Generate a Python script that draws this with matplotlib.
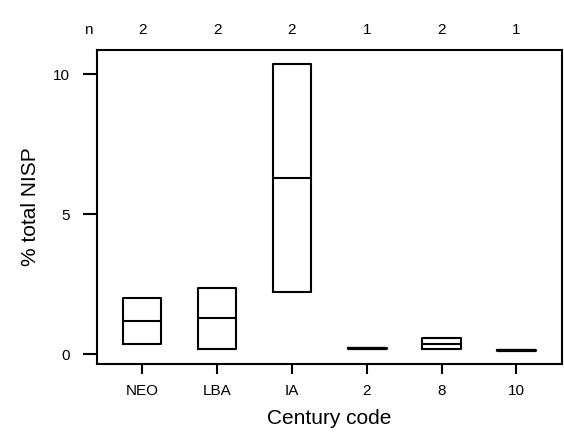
import matplotlib
matplotlib.use("Agg")
import matplotlib.pyplot as plt
import matplotlib.transforms as mtransforms
import numpy as np

plt.rcParams['font.family'] = ['Liberation Sans', 'DejaVu Sans']

categories = ["NEO", "LBA", "IA", "2", "8", "10"]
# observations (% total NISP) per century code
obs_neo = [0.36, 2.0]
obs_lba = [0.2, 2.36]
obs_ia = [2.21, 10.36]
obs_2 = [0.21]
obs_8 = [0.2, 0.57]
obs_10 = [0.14]
groups = [obs_neo, obs_lba, obs_ia, obs_2, obs_8, obs_10]
counts = [len(g) for g in groups]
yticks = [0, 5, 10]

W, H = 564, 432
fig = plt.figure(figsize=(W / 100, H / 100), dpi=100)
ax = fig.add_axes([96.7 / W, (H - 364) / H, (562 - 96.7) / W, (364 - 50) / H])

stats = []
for g in groups:
    lo, hi, med = min(g), max(g), float(np.median(g))
    stats.append(dict(med=med, q1=lo, q3=hi, whislo=lo, whishi=hi, fliers=[]))

positions = np.arange(1, len(categories) + 1)
lw = 1.5
parts = ax.bxp(stats, positions=positions, widths=0.51, showcaps=False,
               showfliers=False, patch_artist=False,
               boxprops=dict(color='black', linewidth=lw),
               medianprops=dict(color='black', linewidth=lw),
               whiskerprops=dict(color='black', linewidth=lw))
for med_line, c in zip(parts['medians'], counts):
    if c == 1:
        med_line.set_linewidth(2.3)
        med_line.set_solid_capstyle('round')

ax.set_xlim(0.39, 6.61)
ax.set_ylim(-0.346, 10.87)
ax.set_xticks(positions)
ax.set_xticklabels(categories)
ax.set_yticks(yticks)
ax.set_yticklabels([str(t) for t in yticks])
ax.tick_params(axis='y', length=10, width=lw, pad=9.5, labelsize=11)
ax.tick_params(axis='x', length=7, width=lw, pad=7.5, labelsize=11)
for s in ax.spines.values():
    s.set_linewidth(lw)

ax.set_xlabel("Century code", fontsize=15, labelpad=8)
ax.set_ylabel("% total NISP", fontsize=15, labelpad=9)

trans = mtransforms.blended_transform_factory(ax.transData, fig.transFigure)
ny = 1 - 30 / H
for p, c in zip(positions, counts):
    ax.text(p, ny, str(c), transform=trans, ha='center', va='center', fontsize=11)
fig.text(88 / W, ny, "n", ha='center', va='center', fontsize=11)

fig.savefig("out.png", dpi=100, facecolor='white')
